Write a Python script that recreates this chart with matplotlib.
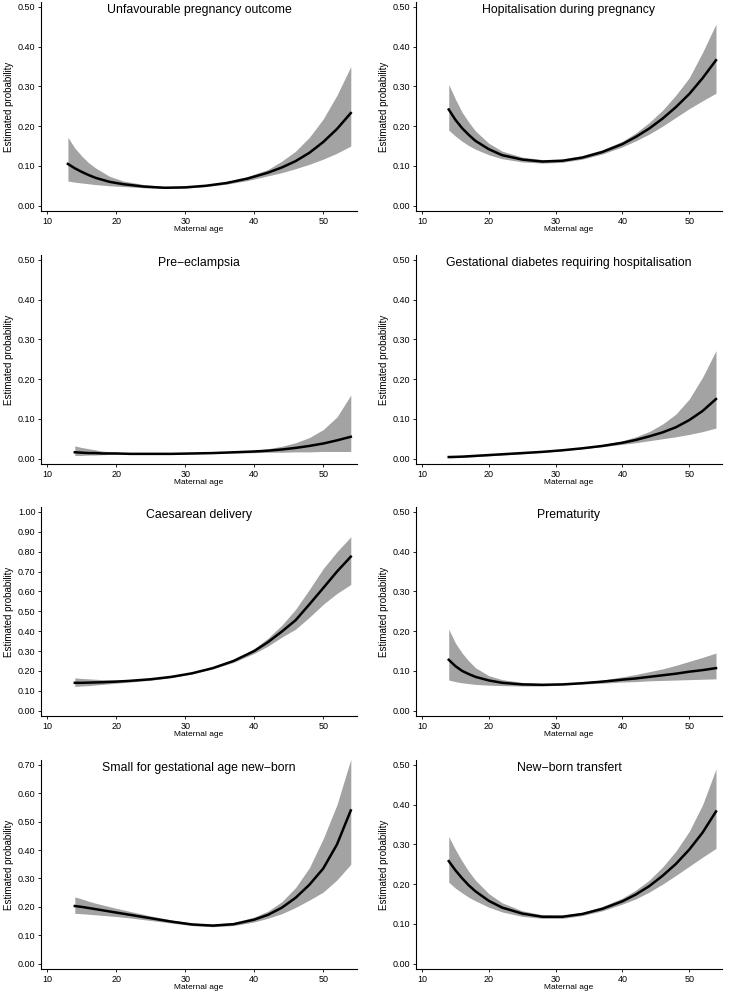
import matplotlib
matplotlib.use("Agg")
import matplotlib.pyplot as plt
from matplotlib.ticker import FormatStrFormatter

plt.rcParams["font.family"] = ["Liberation Sans", "DejaVu Sans"]

ages = [14, 15, 16, 17, 18, 20, 22, 25, 28, 31, 34, 37, 40, 42, 44, 46, 48, 50, 52, 54]
ages_first = [13, 14, 15, 16, 17, 19, 21, 24, 27, 30, 33, 36, 39, 42, 44, 46, 48, 50, 52, 54]

titles = [
    "Unfavourable pregnancy outcome",
    "Hopitalisation during pregnancy",
    "Pre\u2212eclampsia",
    "Gestational diabetes requiring hospitalisation",
    "Caesarean delivery",
    "Prematurity",
    "Small for gestational age new\u2212born",
    "New\u2212born transfert",
]

# estimate, lower bound, upper bound for each outcome
unfav_est = [.105, .094, .085, .077, .070, .060, .054, .048, .045, .046, .050, .057, .068, .083, .096, .112, .133, .160, .193, .233]
unfav_lo = [.062, .059, .057, .055, .053, .050, .048, .045, .043, .044, .048, .054, .063, .075, .083, .093, .104, .117, .132, .150]
unfav_hi = [.172, .145, .125, .108, .095, .074, .062, .053, .048, .048, .053, .060, .073, .091, .112, .137, .172, .218, .278, .350]

hosp_est = [.242, .216, .195, .178, .163, .142, .127, .116, .111, .113, .121, .135, .155, .173, .194, .219, .248, .281, .321, .366]
hosp_lo = [.190, .175, .162, .151, .142, .128, .118, .110, .107, .109, .117, .130, .148, .163, .180, .200, .222, .244, .264, .283]
hosp_hi = [.305, .268, .235, .210, .188, .157, .137, .122, .116, .117, .126, .141, .162, .183, .209, .240, .278, .322, .386, .457]

preecl_est = [.016, .015, .014, .014, .013, .013, .012, .012, .012, .013, .014, .016, .018, .020, .023, .027, .032, .038, .046, .055]
preecl_lo = [.008, .008, .009, .009, .010, .011, .011, .011, .011, .012, .013, .014, .015, .016, .016, .017, .017, .018, .018, .018]
preecl_hi = [.032, .028, .025, .022, .019, .016, .014, .013, .013, .014, .015, .017, .021, .025, .031, .040, .053, .073, .105, .160]

gdm_est = [.004, .0045, .005, .006, .007, .009, .011, .014, .017, .021, .026, .032, .040, .047, .056, .066, .079, .097, .120, .150]
gdm_lo = [.002, .0025, .003, .004, .005, .007, .009, .012, .016, .020, .025, .030, .036, .040, .045, .050, .055, .061, .068, .077]
gdm_hi = [.007, .0075, .008, .0085, .009, .010, .012, .015, .019, .023, .028, .035, .045, .055, .068, .087, .112, .150, .205, .272]

caes_est = [.140, .140, .141, .142, .143, .146, .150, .158, .170, .188, .214, .250, .300, .345, .398, .455, .535, .617, .700, .775]
caes_lo = [.122, .124, .126, .129, .132, .138, .144, .153, .166, .185, .210, .243, .288, .325, .370, .410, .470, .535, .590, .635]
caes_hi = [.165, .162, .160, .158, .156, .155, .157, .163, .174, .192, .218, .256, .312, .365, .430, .510, .610, .715, .800, .875]

prem_est = [.128, .112, .100, .092, .085, .076, .070, .066, .065, .066, .069, .073, .078, .081, .085, .089, .093, .098, .102, .107]
prem_lo = [.077, .073, .070, .068, .066, .064, .063, .062, .062, .064, .067, .069, .072, .073, .075, .076, .077, .078, .079, .080]
prem_hi = [.205, .170, .145, .125, .108, .088, .078, .071, .068, .069, .072, .077, .085, .091, .098, .105, .114, .124, .134, .145]

sga_est = [.203, .200, .196, .192, .188, .180, .172, .160, .148, .138, .134, .139, .155, .172, .197, .232, .278, .335, .420, .540]
sga_lo = [.177, .176, .174, .172, .170, .166, .161, .152, .143, .134, .130, .134, .147, .160, .176, .198, .224, .252, .295, .350]
sga_hi = [.235, .228, .220, .213, .207, .195, .184, .168, .154, .143, .139, .145, .164, .185, .218, .268, .338, .440, .560, .720]

nbt_est = [.258, .235, .215, .197, .182, .158, .141, .126, .118, .118, .125, .138, .157, .174, .195, .221, .251, .287, .330, .383]
nbt_lo = [.205, .190, .178, .167, .158, .142, .130, .119, .114, .114, .121, .133, .150, .163, .180, .200, .222, .245, .268, .290]
nbt_hi = [.320, .287, .258, .232, .210, .176, .153, .133, .123, .122, .129, .144, .165, .185, .210, .243, .283, .333, .400, .490]

series = [
    (ages_first, unfav_est, unfav_lo, unfav_hi),
    (ages, hosp_est, hosp_lo, hosp_hi),
    (ages, preecl_est, preecl_lo, preecl_hi),
    (ages, gdm_est, gdm_lo, gdm_hi),
    (ages, caes_est, caes_lo, caes_hi),
    (ages, prem_est, prem_lo, prem_hi),
    (ages, sga_est, sga_lo, sga_hi),
    (ages, nbt_est, nbt_lo, nbt_hi),
]
y_tops = [0.5, 0.5, 0.5, 0.5, 1.0, 0.5, 0.7, 0.5]

W, H = 732, 993
fig = plt.figure(figsize=(W / 100, H / 100), dpi=100)

col_left = [41, 416]
col_width = [316, 306]
row_top = [2, 255, 507, 760]
row_h = 209

for i, (x, est, lo, hi) in enumerate(series):
    r, c = divmod(i, 2)
    ax = fig.add_axes([col_left[c] / W, 1 - (row_top[r] + row_h) / H,
                       col_width[c] / W, row_h / H])
    ax.fill_between(x, lo, hi, color="#a3a3a3", lw=0)
    ax.plot(x, est, color="black", lw=1.8, solid_joinstyle="round")

    top = y_tops[i]
    ax.set_ylim(-0.027 * top, top * 1.025)
    ax.set_xlim(9.1, 54.9)
    ax.set_xticks([10, 20, 30, 40, 50])
    ax.set_yticks([k / 10 for k in range(int(round(top * 10)) + 1)])
    ax.yaxis.set_major_formatter(FormatStrFormatter("%.2f"))
    for s in ["top", "right"]:
        ax.spines[s].set_visible(False)
    for s in ["left", "bottom"]:
        ax.spines[s].set_linewidth(0.8)
    ax.tick_params(labelsize=6.5, length=2.5, width=0.6, pad=1.5)
    ax.set_xlabel("Maternal age", fontsize=6, labelpad=0.5)
    ax.set_ylabel("Estimated probability", fontsize=7, labelpad=3)
    ax.text(0.5, 0.99, titles[i], transform=ax.transAxes, ha="center",
            va="top", fontsize=8.8)

fig.savefig("out.png", dpi=100)
plt.close(fig)
